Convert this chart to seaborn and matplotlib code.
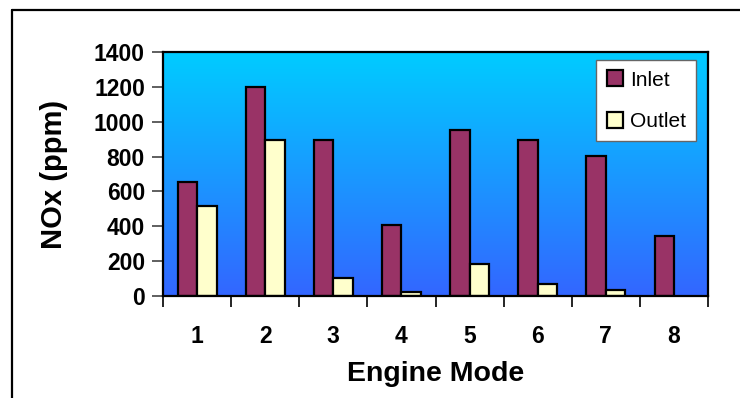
import numpy as np
import pandas as pd
import matplotlib
matplotlib.use("Agg")
import matplotlib.pyplot as plt
import seaborn as sns
from matplotlib.lines import Line2D
from matplotlib.colors import LinearSegmentedColormap

modes = ["1", "2", "3", "4", "5", "6", "7", "8"]
inlet = [655, 1200, 895, 410, 950, 895, 805, 345]
outlet = [515, 895, 105, 25, 185, 70, 35, np.nan]
series = ["Inlet", "Outlet"]
colors = ["#993366", "#FFFFCC"]
yticks = [0, 200, 400, 600, 800, 1000, 1200, 1400]

df = pd.DataFrame({
    "mode": modes * 2,
    "value": inlet + outlet,
    "series": ["Inlet"] * len(modes) + ["Outlet"] * len(modes),
})

sns.set_style("white")
plt.rcParams["font.family"] = ["Liberation Sans", "DejaVu Sans"]
plt.rcParams["text.color"] = "black"
plt.rcParams["axes.labelcolor"] = "black"
plt.rcParams["xtick.color"] = "black"
plt.rcParams["ytick.color"] = "black"

fig = plt.figure(figsize=(7.4, 3.98), dpi=100)
ax = fig.add_axes([0.2203, 0.2563, 0.7365, 0.6130])

# gradient background
cmap = LinearSegmentedColormap.from_list("bg", ["#3366FF", "#00CCFF"])
grad = np.linspace(0, 1, 256).reshape(-1, 1)
ax.imshow(grad, cmap=cmap, origin="lower", aspect="auto",
          extent=[0, 1, 0, 1], transform=ax.transAxes, zorder=0)

sns.barplot(data=df, x="mode", y="value", hue="series", hue_order=series,
            order=modes, palette=colors, saturation=1, width=0.57, gap=0,
            edgecolor="black", linewidth=1.6, ax=ax, zorder=2, legend=True)

ax.set_xlim(-0.5, len(modes) - 0.5)
ax.set_ylim(0, 1400)
ax.set_yticks(yticks)
ax.set_yticklabels([str(t) for t in yticks], fontsize=16.5, fontweight="bold")
ax.set_xticks(range(len(modes)))
ax.set_xticklabels(modes, fontsize=16.5, fontweight="bold")
ax.set_xticks(np.arange(-0.5, len(modes)), minor=True)
ax.tick_params(axis="x", which="major", length=0, pad=21)
ax.tick_params(axis="x", which="minor", length=8, width=1.2, color="black",
               direction="out", bottom=True)
ax.tick_params(axis="y", length=8, width=1.2, color="#444444", direction="out",
               left=True, pad=5)
ax.set_xlabel("Engine Mode", fontsize=20.5, fontweight="bold", labelpad=9)
ax.set_ylabel("NOx (ppm)", fontsize=21, fontweight="bold", labelpad=19)

for s in ax.spines.values():
    s.set_visible(True)
    s.set_color("black")
    s.set_linewidth(1.6)

leg = ax.legend(loc="upper right", bbox_to_anchor=(0.978, 0.967),
                borderaxespad=0, fancybox=False, frameon=True,
                edgecolor="#666666", framealpha=1, fontsize=15,
                handlelength=0.8, handleheight=0.8, handletextpad=0.3,
                labelspacing=1.05, borderpad=0.5)
leg.get_frame().set_linewidth(1.0)
for h in leg.legend_handles:
    h.set_edgecolor("black")
    h.set_linewidth(1.6)

# outer frame (top and left edges visible)
fig.add_artist(Line2D([12 / 740, 1.0], [1 - 10 / 398, 1 - 10 / 398],
                      transform=fig.transFigure, color="black", lw=1.6))
fig.add_artist(Line2D([12 / 740, 12 / 740], [0.0, 1 - 10 / 398],
                      transform=fig.transFigure, color="black", lw=1.6))

fig.savefig("out.png", dpi=100)
